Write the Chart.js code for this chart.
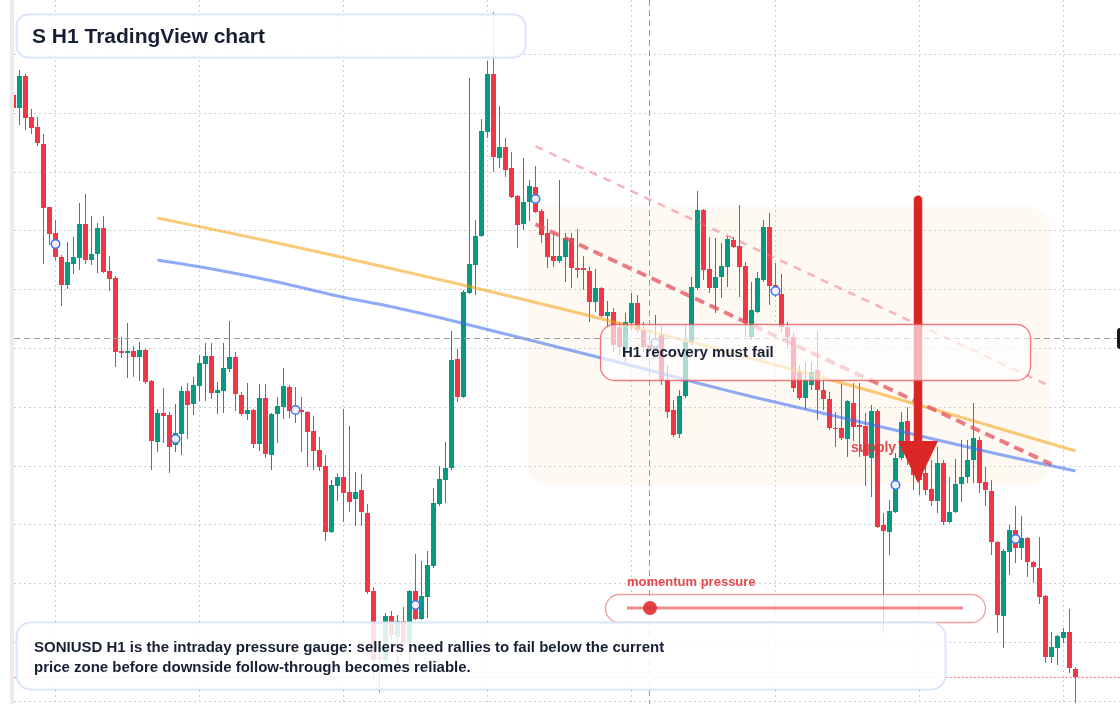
<!DOCTYPE html>
<html><head><meta charset="utf-8">
<script src="https://cdn.jsdelivr.net/npm/chart.js@4.4.1/dist/chart.umd.min.js"></script>
<style>html,body{margin:0;padding:0;background:#fff;overflow:hidden}canvas{display:block}</style>
</head><body>
<canvas id="c" width="1120" height="704"></canvas>
<script>
// ---- data (SONIUSD H1 candles, index 0 = oldest visible bar) ----
const opens=[26.301,26.080,26.624,25.927,25.757,25.468,24.397,23.955,23.547,23.071,
23.428,23.530,24.108,23.496,23.598,24.040,23.309,23.190,21.949,21.915,
21.949,21.847,21.966,21.439,20.402,20.895,20.861,20.351,20.538,21.269,
21.048,21.354,21.728,21.864,21.235,21.269,21.643,21.847,21.201,20.878,
20.946,20.368,21.150,20.181,20.878,20.997,21.337,21.014,20.946,20.912,
20.589,20.266,19.994,18.872,19.654,19.807,19.552,19.433,19.586,19.195,
17.869,16.747,16.696,17.444,17.087,17.359,16.985,17.869,17.393,17.767,
18.294,19.348,19.756,19.960,21.813,21.167,22.935,23.411,23.904,25.672,
26.658,25.230,25.417,25.060,24.584,24.108,24.482,24.737,24.329,23.955,
23.564,23.479,23.547,23.870,23.360,23.360,23.309,22.782,23.020,22.544,
22.612,22.357,21.966,22.425,22.765,22.306,22.051,21.966,22.221,21.456,
20.946,20.538,21.184,22.102,23.020,24.346,23.343,23.020,23.207,23.377,
23.836,23.734,23.394,22.187,22.612,23.156,24.057,23.071,22.918,22.357,
22.187,21.592,21.150,21.371,21.626,21.286,21.133,20.640,20.640,20.453,
21.065,20.691,20.674,20.130,20.929,18.991,18.872,19.212,20.130,20.759,
20.181,20.096,19.875,19.603,19.399,20.045,19.042,19.212,19.688,19.807,
20.096,20.436,19.722,19.569,18.702,17.444,18.532,18.906,18.600,18.770,
18.362,18.260,17.784,16.747,16.900,17.070,17.172,16.543];
const highs=[26.335,26.726,26.658,26.063,25.927,25.638,24.397,24.176,23.581,23.802,
23.887,24.465,24.618,24.244,24.125,24.244,23.564,23.224,22.187,22.425,
22.034,22.102,21.983,21.456,20.963,21.320,20.912,21.048,21.354,21.405,
21.507,21.881,22.085,22.085,21.422,22.085,22.459,21.932,21.252,21.405,
20.963,21.388,21.388,20.895,21.167,21.660,21.371,21.337,21.167,20.929,
20.844,20.487,20.181,19.756,19.875,20.963,20.674,19.892,19.858,19.348,
17.937,17.036,17.495,17.529,17.461,17.597,17.886,18.498,18.379,18.549,
19.620,19.994,20.402,22.289,21.983,22.986,26.590,24.176,25.893,26.879,
27.712,26.114,25.570,25.332,24.601,25.230,24.856,25.094,24.363,24.193,
23.955,24.856,23.955,23.955,24.023,23.564,23.377,23.343,23.037,22.799,
22.680,22.442,22.595,22.935,22.901,22.442,22.306,22.561,22.374,21.711,
21.116,21.286,22.391,23.207,24.669,24.363,23.887,23.870,23.785,23.904,
23.887,24.431,23.462,23.122,23.292,24.176,24.295,23.445,23.258,22.442,
22.255,21.711,21.762,21.762,22.289,21.456,21.252,20.912,21.388,21.116,
21.405,21.405,20.895,21.031,20.963,19.195,19.416,20.215,20.912,20.997,
20.351,20.351,20.147,20.096,20.317,20.096,19.807,20.113,20.436,20.436,
21.065,20.487,19.977,19.756,18.719,18.583,18.991,19.314,19.144,18.787,
18.379,18.787,17.801,17.172,17.121,17.240,17.563,16.577];
const lows=[26.046,25.791,25.706,25.638,25.434,23.428,23.751,23.496,22.714,23.003,
23.258,23.326,23.428,23.411,23.275,23.275,22.969,21.677,21.830,21.490,
21.507,21.439,21.388,19.926,20.232,20.385,19.875,20.232,20.181,20.453,
20.861,21.099,21.099,21.133,20.878,20.895,21.592,20.929,20.844,20.776,
20.300,20.249,20.130,19.926,20.385,20.793,20.810,20.725,20.232,19.977,
19.926,19.909,18.719,18.855,19.399,19.042,19.212,18.974,18.974,17.818,
16.356,16.152,16.611,17.036,16.611,16.934,16.611,17.376,17.376,17.410,
18.260,19.314,19.365,19.926,21.082,21.150,22.918,22.901,23.887,25.570,
24.992,25.060,24.907,24.550,23.700,24.006,24.159,24.295,23.785,23.360,
23.377,23.445,23.122,23.020,23.190,22.986,22.442,22.612,22.527,22.357,
21.932,21.881,21.762,22.306,22.255,21.932,21.864,21.864,21.371,20.810,
20.487,20.470,21.150,22.051,22.986,23.156,22.935,22.595,22.850,23.037,
23.700,22.867,22.187,22.136,22.595,23.122,22.731,22.867,22.272,22.000,
21.252,21.116,20.963,21.286,20.776,20.946,20.606,20.317,20.436,20.147,
20.419,20.147,19.654,19.467,18.940,17.155,18.481,19.195,20.096,20.011,
19.586,19.501,19.501,19.314,19.195,18.991,19.025,19.195,19.382,19.705,
19.705,19.535,19.314,18.481,17.155,16.900,18.141,18.345,18.396,18.107,
18.005,17.648,16.645,16.645,16.611,16.985,16.475,15.965];
const closes=[26.080,26.624,25.910,25.740,25.485,24.380,23.938,23.547,23.071,23.462,
23.547,24.108,23.496,23.598,24.040,23.292,23.173,21.932,21.915,21.949,
21.847,21.966,21.422,20.419,20.895,20.844,20.317,20.555,21.269,21.031,
21.371,21.745,21.864,21.235,21.286,21.660,21.847,21.218,20.878,20.946,
20.368,21.150,20.198,20.878,21.014,21.354,20.929,20.912,20.912,20.572,
20.249,19.977,18.872,19.671,19.807,19.535,19.382,19.552,19.212,17.852,
16.696,16.713,17.444,17.121,17.359,16.985,17.869,17.393,17.784,18.311,
19.365,19.773,19.960,21.796,21.167,22.952,23.428,23.904,25.689,26.658,
25.247,25.417,25.026,24.567,24.091,24.482,24.754,24.312,23.921,23.547,
23.479,23.564,23.870,23.360,23.326,23.326,22.782,23.020,22.544,22.612,
22.051,22.017,22.442,22.765,22.306,22.017,21.966,22.170,21.456,20.912,
20.521,21.184,22.102,23.037,24.346,23.326,23.020,23.207,23.394,23.853,
23.717,23.377,22.425,22.646,23.190,24.057,23.054,22.952,22.357,22.187,
21.320,21.150,21.456,21.592,21.286,21.133,20.640,20.623,20.470,21.099,
20.657,20.657,20.164,20.929,18.957,18.889,19.229,20.130,20.742,20.181,
19.841,19.756,19.586,19.399,20.045,19.042,19.212,19.688,19.807,20.096,
20.470,19.705,19.586,18.702,17.461,18.549,18.906,18.600,18.770,18.362,
18.277,17.767,16.747,16.917,17.104,17.172,16.560,16.407];

const slowMaIdx=[24,44,64,84,104,124,144,164,177];
const slowMa=[24.210,23.785,23.326,22.850,22.340,21.796,21.235,20.640,20.249];
const fastMaIdx=[24,34,44,54,64,74,84,94,104,114,124,134,144,154,164,177];
const fastMa=[23.496,23.326,23.122,22.884,22.680,22.442,22.187,21.932,21.677,21.405,21.150,20.912,20.674,20.436,20.198,19.909];
const markerIdx=[7,27,47,67,87,107,127,147,167];
const markerPrice=[23.768,20.453,20.946,17.631,24.533,22.085,22.969,19.671,18.753];
const trendIdx=[87,173];
const upperTrend=[25.429,21.340];
const lowerTrend=[24.103,20.023];
const zoneIdx=[85.6,172.75];
const zonePrice=[24.40,19.67];
const arrowIdx=150.75;
const arrowPrice=[24.52,20.42,19.70]; // start, head base, tip
const dayStartIdx=[7,31,55,79,103,127,151,175];
const gridPrices=[16,17,18,19,20,21,22,23,24,25,26,27];
const crossIdx=106;
const crossPrice=22.17;

const FONT='"Liberation Sans", Arial, Helvetica, sans-serif';
const UP='#089981', DN='#f23645';
const idx=opens.map((_,i)=>i);
const candleCol=idx.map(i=>closes[i]>=opens[i]?UP:DN);

function rr(ctx,x,y,w,h,r){ctx.beginPath();ctx.moveTo(x+r,y);ctx.arcTo(x+w,y,x+w,y+h,r);ctx.arcTo(x+w,y+h,x,y+h,r);ctx.arcTo(x,y+h,x,y,r);ctx.arcTo(x,y,x+w,y,r);ctx.closePath();}
function seg(ctx,x1,y1,x2,y2){ctx.beginPath();ctx.moveTo(x1,y1);ctx.lineTo(x2,y2);ctx.stroke();}

const deco={
  id:'deco',
  beforeDraw(chart){
    const ctx=chart.ctx;ctx.save();ctx.fillStyle='#fff';ctx.fillRect(0,0,chart.width,chart.height);ctx.restore();
  },
  beforeDatasetsDraw(chart){
    const {ctx,chartArea:a,scales:{x,y}}=chart;
    ctx.save();
    const zx1=x.getPixelForValue(zoneIdx[0]),zx2=x.getPixelForValue(zoneIdx[1]);
    const zy1=y.getPixelForValue(zonePrice[0]),zy2=y.getPixelForValue(zonePrice[1]);
    ctx.fillStyle='rgba(251,146,60,0.055)';
    rr(ctx,zx1,zy1,zx2-zx1,zy2-zy1,22);ctx.fill();
    ctx.strokeStyle='#cfcfcf';ctx.lineWidth=1;ctx.setLineDash([2,3]);
    for(const p of gridPrices){const py=Math.round(y.getPixelForValue(p))+0.5;seg(ctx,a.left,py,a.right,py);}
    for(const d of dayStartIdx){const px=Math.floor(x.getPixelForValue(d))+0.5;seg(ctx,px,0,px,a.bottom);}
    const lp=Math.round(y.getPixelForValue(closes[closes.length-1]))+0.5;
    ctx.strokeStyle='rgba(242,54,69,0.85)';ctx.setLineDash([1.5,2.5]);
    seg(ctx,a.left,lp,a.right,lp);
    ctx.restore();
  },
  afterDatasetsDraw(chart){
    const {ctx,chartArea:a,scales:{x,y}}=chart;
    ctx.save();
    ctx.strokeStyle='#9b9b9b';ctx.lineWidth=1;ctx.setLineDash([6,4]);
    const cx=Math.floor(x.getPixelForValue(crossIdx))+0.5;
    const cy=Math.round(y.getPixelForValue(crossPrice))+0.5;
    seg(ctx,cx,0,cx,a.bottom);
    seg(ctx,a.left,cy,a.right,cy);
    ctx.setLineDash([]);
    ctx.font='bold 14px '+FONT;ctx.textBaseline='middle';ctx.fillStyle='rgba(225,50,50,0.88)';
    ctx.fillText('supply zone',851,448);
    const ax=x.getPixelForValue(arrowIdx);
    const ay0=y.getPixelForValue(arrowPrice[0]),ayb=y.getPixelForValue(arrowPrice[1]),ayt=y.getPixelForValue(arrowPrice[2]);
    ctx.strokeStyle='#dc2626';ctx.fillStyle='#dc2626';ctx.lineWidth=8.5;ctx.lineCap='round';
    seg(ctx,ax,ay0,ax,ayb+2);
    ctx.lineCap='butt';
    ctx.beginPath();ctx.moveTo(ax-20,ayb);ctx.lineTo(ax+20,ayb);ctx.lineTo(ax,ayt);ctx.closePath();ctx.fill();
    rr(ctx,600.5,324.5,430,56,14);
    ctx.fillStyle='rgba(255,255,255,0.66)';ctx.fill();
    ctx.strokeStyle='rgba(236,80,80,0.75)';ctx.lineWidth=1.3;ctx.stroke();
    ctx.fillStyle='#172033';ctx.font='bold 15px '+FONT;
    ctx.fillText('H1 recovery must fail',622,353);
    rr(ctx,605.5,594.5,380,28,14);
    ctx.fillStyle='rgba(255,255,255,0.72)';ctx.fill();
    ctx.strokeStyle='rgba(236,90,90,0.6)';ctx.lineWidth=1.3;ctx.stroke();
    ctx.strokeStyle='rgba(228,90,90,0.7)';ctx.lineWidth=3;seg(ctx,627,608,963,608);
    ctx.fillStyle='rgba(222,40,40,0.88)';ctx.beginPath();ctx.arc(650,608,7,0,Math.PI*2);ctx.fill();
    ctx.fillStyle='#e5484d';ctx.font='bold 13px '+FONT;ctx.fillText('momentum pressure',627,582);
    rr(ctx,16.5,622.5,929,67,14);
    ctx.fillStyle='rgba(255,255,255,0.86)';ctx.fill();
    ctx.strokeStyle='#d9e5f8';ctx.lineWidth=2;ctx.stroke();
    ctx.fillStyle='#172033';ctx.font='bold 15px '+FONT;
    ctx.fillText('SONIUSD H1 is the intraday pressure gauge: sellers need rallies to fail below the current',34,648);
    ctx.fillText('price zone before downside follow-through becomes reliable.',34,668);
    rr(ctx,16.5,14.5,509,43,12);
    ctx.fillStyle='rgba(255,255,255,0.88)';ctx.fill();
    ctx.strokeStyle='#d9e5f8';ctx.lineWidth=2;ctx.stroke();
    ctx.fillStyle='#172033';ctx.font='bold 21px '+FONT;
    ctx.fillText('S H1 TradingView chart',32,37);
    ctx.fillStyle='#131722';rr(ctx,1117,cy-10.5,12,21,3);ctx.fill();
    ctx.fillStyle='#fff';ctx.fillRect(0,0,10,chart.height);
    ctx.fillStyle='#ebebeb';ctx.fillRect(10,0,4,chart.height);
    ctx.restore();
  }
};

new Chart(document.getElementById('c'),{
  type:'bar',
  data:{datasets:[
    {type:'bar',label:'wick',data:idx.map(i=>({x:i,y:[lows[i],highs[i]]})),backgroundColor:candleCol,barThickness:1,grouped:false,inflateAmount:0,borderWidth:0,order:10},
    {type:'bar',label:'body',data:idx.map(i=>({x:i,y:[opens[i],closes[i]]})),backgroundColor:candleCol,barThickness:5,grouped:false,inflateAmount:0,borderWidth:0,minBarLength:1,order:9},
    {type:'line',label:'slow',data:slowMaIdx.map((v,k)=>({x:v,y:slowMa[k]})),borderColor:'rgba(245,158,11,0.55)',borderWidth:3,pointRadius:0,tension:0.35,order:6},
    {type:'line',label:'fast',data:fastMaIdx.map((v,k)=>({x:v,y:fastMa[k]})),borderColor:'rgba(59,110,240,0.58)',borderWidth:3,pointRadius:0,tension:0.35,order:6},
    {type:'line',label:'upper',data:trendIdx.map((v,k)=>({x:v,y:upperTrend[k]})),borderColor:'rgba(240,110,120,0.5)',borderWidth:2.5,borderDash:[8,7],pointRadius:0,order:5},
    {type:'line',label:'lower',data:trendIdx.map((v,k)=>({x:v,y:lowerTrend[k]})),borderColor:'rgba(228,80,90,0.75)',borderWidth:4,borderDash:[10,6],pointRadius:0,order:5},
    {type:'line',label:'marks',data:markerIdx.map((v,k)=>({x:v,y:markerPrice[k]})),showLine:false,pointRadius:4.2,pointBorderWidth:1.6,pointBorderColor:'#3d73ef',pointBackgroundColor:'rgba(255,255,255,0.9)',order:1}
  ]},
  options:{
    responsive:false,animation:false,events:[],
    layout:{autoPadding:false,padding:{left:14,right:0,top:0,bottom:0}},
    plugins:{legend:{display:false},tooltip:{enabled:false}},
    scales:{
      x:{type:'linear',min:1/12,max:1/12+1106/6,offset:false,display:false},
      y:{type:'linear',min:15.948,max:27.916,display:false}
    }
  },
  plugins:[deco]
});
</script>
</body></html>
